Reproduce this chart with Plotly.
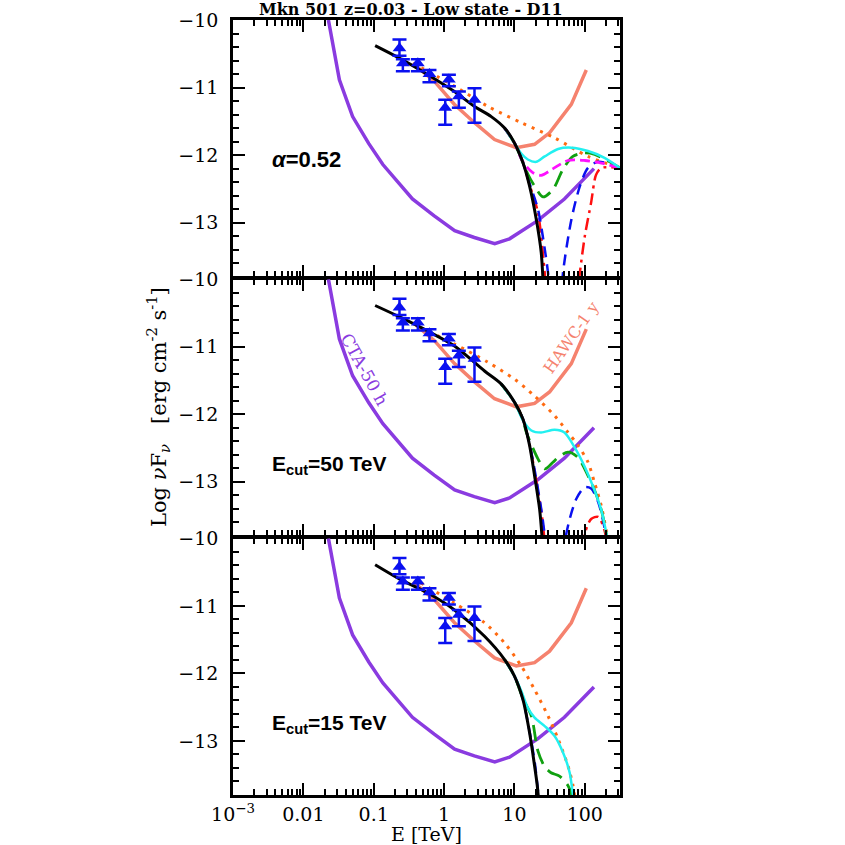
import numpy as np
import plotly.graph_objects as go
from plotly.subplots import make_subplots

# ---------------- data (log10 E [TeV], Log nuF_nu) ----------------
# observed points (same in all panels)
data_logE = [-0.634, -0.586, -0.373, -0.208, 0.068, 0.016, 0.210, 0.432]
data_logF = [-10.42, -10.64, -10.64, -10.80, -10.88, -11.30, -11.13, -11.18]
data_err_up = [0.13, 0.06, 0.06, 0.06, 0.07, 0.12, 0.07, 0.17]
data_err_dn = [0.11, 0.12, 0.12, 0.12, 0.10, 0.25, 0.17, 0.34]

# CTA-50 h sensitivity
cta_logE = [-1.644, -1.488, -1.30, -1.07, -0.87, -0.66, -0.45, -0.14, 0.15, 0.43, 0.72, 0.93, 1.33, 1.71, 2.13]
cta_logF = [-10.00, -10.885, -11.43, -11.83, -12.14, -12.39, -12.65, -12.90, -13.12, -13.22, -13.31, -13.24, -12.97, -12.65, -12.20]

# HAWC-1 y sensitivity
hawc_logE = [-0.444, -0.137, 0.148, 0.432, 0.717, 1.026, 1.286, 1.499, 1.808, 2.021]
hawc_logF = [-10.64, -10.91, -11.25, -11.52, -11.77, -11.89, -11.84, -11.67, -11.25, -10.74]

# panel 1 (alpha = 0.52)
p1_black_logE = [-0.98, -0.61, -0.23, 0.148, 0.432, 0.67, 0.86, 1.0, 1.12, 1.215, 1.31, 1.38, 1.405, 1.42]
p1_black_logF = [-10.38, -10.58, -10.81, -11.06, -11.28, -11.43, -11.60, -11.82, -12.11, -12.46, -12.95, -13.44, -13.83, -14.1]
p1_intr_logE = [-0.44, 0.148, 0.623, 1.097, 1.57, 2.045, 2.50]
p1_intr_logF = [-10.64, -10.98, -11.28, -11.52, -11.745, -12.02, -12.19]
p1_cyan_logE = [0.86, 1.0, 1.1, 1.19, 1.31, 1.43, 1.62, 1.81, 2.045, 2.28, 2.50]
p1_cyan_logF = [-11.60, -11.82, -11.98, -12.065, -12.10, -12.02, -11.91, -11.89, -11.94, -12.04, -12.19]
p1_mag_logE = [0.86, 1.0, 1.12, 1.26, 1.38, 1.55, 1.76, 2.0, 2.235, 2.50]
p1_mag_logF = [-11.60, -11.82, -12.10, -12.26, -12.30, -12.20, -12.08, -12.08, -12.12, -12.19]
p1_green_logE = [0.86, 1.0, 1.12, 1.19, 1.286, 1.405, 1.547, 1.69, 1.83, 1.974, 2.14, 2.50]
p1_green_logF = [-11.60, -11.82, -12.11, -12.28, -12.46, -12.62, -12.51, -12.21, -12.02, -11.97, -11.99, -12.19]
p1_blue_logE = [0.86, 1.0, 1.12, 1.215, 1.334, 1.41, 1.477, 1.55, 1.64, 1.69, 1.81, 1.93, 2.045, 2.19, 2.50]
p1_blue_logF = [-11.60, -11.82, -12.11, -12.42, -12.80, -13.25, -13.74, -14.5, -14.5, -13.74, -12.95, -12.46, -12.19, -12.10, -12.19]
p1_red_logE = [0.86, 1.0, 1.12, 1.215, 1.334, 1.43, 1.50, 1.85, 1.93, 2.0, 2.09, 2.16, 2.235, 2.50]
p1_red_logF = [-11.60, -11.82, -12.11, -12.44, -12.85, -13.74, -14.5, -14.5, -13.74, -13.20, -12.70, -12.29, -12.19, -12.19]

# panel 2 (Ecut = 50 TeV)
p2_black_logE = [-0.98, -0.61, -0.23, 0.148, 0.575, 0.81, 1.0, 1.12, 1.215, 1.286, 1.357, 1.39, 1.41]
p2_black_logF = [-10.39, -10.57, -10.77, -10.99, -11.36, -11.55, -11.82, -12.07, -12.46, -12.91, -13.40, -13.79, -14.1]
p2_intr_logE = [-0.33, 0.148, 0.623, 1.0, 1.286, 1.57, 1.761, 1.903, 2.045, 2.14, 2.235, 2.306, 2.34]
p2_intr_logF = [-10.72, -10.96, -11.23, -11.48, -11.73, -12.02, -12.27, -12.46, -12.71, -13.02, -13.36, -13.74, -14.0]
p2_cyan_logE = [0.81, 1.0, 1.12, 1.24, 1.38, 1.57, 1.71, 1.855, 2.0, 2.14, 2.235, 2.306, 2.34]
p2_cyan_logF = [-11.55, -11.82, -12.09, -12.24, -12.27, -12.23, -12.27, -12.49, -12.78, -13.13, -13.42, -13.77, -14.0]
p2_green_logE = [0.81, 1.0, 1.12, 1.17, 1.334, 1.43, 1.547, 1.62, 1.761, 1.903, 2.045, 2.14, 2.235, 2.306, 2.34]
p2_green_logF = [-11.55, -11.82, -12.08, -12.27, -12.66, -12.81, -12.71, -12.64, -12.56, -12.64, -12.91, -13.13, -13.42, -13.77, -14.0]
p2_blue_logE = [0.81, 1.0, 1.12, 1.215, 1.30, 1.38, 1.43, 1.50, 1.68, 1.737, 1.88, 2.0, 2.09, 2.19, 2.28, 2.32]
p2_blue_logF = [-11.55, -11.82, -12.07, -12.44, -12.90, -13.40, -13.79, -14.5, -14.5, -13.77, -13.25, -13.08, -13.10, -13.30, -13.68, -14.0]
p2_red_logE = [0.81, 1.0, 1.12, 1.215, 1.30, 1.39, 1.42, 1.50, 1.90, 2.0, 2.09, 2.19, 2.28, 2.32]
p2_red_logF = [-11.55, -11.82, -12.07, -12.45, -12.92, -13.50, -13.79, -14.5, -14.5, -13.77, -13.55, -13.52, -13.72, -14.0]

# panel 3 (Ecut = 15 TeV)
p3_black_logE = [-0.98, -0.61, -0.23, 0.148, 0.575, 0.86, 1.0, 1.12, 1.215, 1.286, 1.324, 1.35]
p3_black_logF = [-10.39, -10.615, -10.81, -11.06, -11.45, -11.795, -12.04, -12.385, -12.88, -13.37, -13.66, -13.95]
p3_intr_logE = [-0.33, 0.148, 0.575, 0.86, 1.097, 1.286, 1.477, 1.62, 1.761, 1.832, 1.87]
p3_intr_logF = [-10.66, -10.96, -11.25, -11.55, -11.89, -12.24, -12.63, -12.97, -13.37, -13.66, -13.9]
p3_cyan_logE = [0.86, 1.0, 1.097, 1.19, 1.286, 1.43, 1.57, 1.69, 1.785, 1.83, 1.86]
p3_cyan_logF = [-11.795, -12.04, -12.26, -12.51, -12.655, -12.78, -12.925, -13.17, -13.47, -13.79, -14.0]
p3_green_logE = [0.86, 1.0, 1.12, 1.24, 1.334, 1.43, 1.52, 1.64, 1.76, 1.81, 1.84]
p3_green_logF = [-11.795, -12.04, -12.37, -12.63, -13.15, -13.38, -13.47, -13.52, -13.66, -13.79, -14.0]
p3_blue_logE = [0.86, 1.0, 1.12, 1.215, 1.29, 1.34, 1.37]
p3_blue_logF = [-11.795, -12.04, -12.385, -12.86, -13.33, -13.79, -14.0]

panel_labels = ["<b><i>α</i>=0.52</b>", "<b>E<sub>cut</sub>=50 TeV</b>", "<b>E<sub>cut</sub>=15 TeV</b>"]
title_text = "<b>Mkn 501 z=0.03 - Low state - D11</b>"
xtick_vals = [1e-3, 1e-2, 1e-1, 1, 10, 100]
xtick_text = ["10<sup>−3</sup>", "0.01", "0.1", "1", "10", "100"]
ytick_vals = [-13, -12, -11, -10]
ytick_text = ["−13", "−12", "−11", "−10"]

# ---------------- figure ----------------
SERIF = "DejaVu Serif"
LW = 2.5
PLOT_H = 775.0
fig = make_subplots(rows=3, cols=1, shared_xaxes=True, vertical_spacing=LW / PLOT_H)

def E(v):
    return 10 ** np.asarray(v)

def line(xl, yl, color, width, dash="solid", row=1, shape="spline"):
    fig.add_trace(go.Scatter(x=E(xl), y=yl, mode="lines",
                             line=dict(color=color, width=width, dash=dash, shape=shape, smoothing=0.8),
                             hoverinfo="skip"), row=row, col=1)

PURPLE = "#8a3be0"
SALMON = "#f5826e"
ORANGE = "#ff6a10"
CYAN = "#22f0f0"
MAGENTA = "#ff10ff"
GREEN = "#10a010"
BLUE = "#0a10f0"
RED = "#ff1010"

panels = [
    dict(black=(p1_black_logE, p1_black_logF), intr=(p1_intr_logE, p1_intr_logF),
         red=(p1_red_logE, p1_red_logF), blue=(p1_blue_logE, p1_blue_logF),
         green=(p1_green_logE, p1_green_logF), mag=(p1_mag_logE, p1_mag_logF),
         cyan=(p1_cyan_logE, p1_cyan_logF)),
    dict(black=(p2_black_logE, p2_black_logF), intr=(p2_intr_logE, p2_intr_logF),
         red=(p2_red_logE, p2_red_logF), blue=(p2_blue_logE, p2_blue_logF),
         green=(p2_green_logE, p2_green_logF), cyan=(p2_cyan_logE, p2_cyan_logF)),
    dict(black=(p3_black_logE, p3_black_logF), intr=(p3_intr_logE, p3_intr_logF),
         blue=(p3_blue_logE, p3_blue_logF),
         green=(p3_green_logE, p3_green_logF), cyan=(p3_cyan_logE, p3_cyan_logF)),
]

for i, p in enumerate(panels):
    r = i + 1
    line(cta_logE, cta_logF, PURPLE, 3.5, row=r, shape="linear")
    line(hawc_logE, hawc_logF, SALMON, 3.5, row=r, shape="linear")
    line(*p["intr"], ORANGE, 3, dash="3px,6px", row=r)
    if "red" in p:
        line(*p["red"], RED, 2.5, dash="12px,5px,3px,5px", row=r)
    if "blue" in p:
        line(*p["blue"], BLUE, 2.5, dash="11px,7px", row=r)
    if "green" in p:
        line(*p["green"], GREEN, 2.8, dash="16px,8px", row=r)
    if "mag" in p:
        line(*p["mag"], MAGENTA, 2.8, dash="10px,5px", row=r)
    line(*p["cyan"], CYAN, 2.5, row=r)
    line(*p["black"], "black", 3, row=r)
    fig.add_trace(go.Scatter(x=E(data_logE), y=data_logF, mode="markers",
                             marker=dict(symbol="triangle-up", size=12, color=BLUE),
                             error_y=dict(type="data", symmetric=False, array=data_err_up,
                                          arrayminus=data_err_dn, color=BLUE, thickness=2.5, width=7),
                             hoverinfo="skip"), row=r, col=1)

minor_vals = [k * 10.0 ** n for n in range(-3, 3) for k in range(2, 10)]

for r in (1, 2, 3):
    fig.update_xaxes(row=r, col=1, type="log", range=[-3, 2.5], automargin=False,
                     tickvals=xtick_vals, ticktext=xtick_text, showticklabels=(r == 3),
                     ticks="inside", ticklen=12, tickwidth=2, tickcolor="black",
                     mirror="allticks", showline=True, linecolor="black", linewidth=LW,
                     showgrid=False, zeroline=False,
                     minor=dict(ticks="inside", ticklen=6, tickwidth=2, tickcolor="black",
                                tickvals=minor_vals, showgrid=False),
                     tickfont=dict(family=SERIF, size=19, color="black"))
    fig.update_yaxes(row=r, col=1, range=[-13.8, -10], automargin=False,
                     tickvals=ytick_vals, ticktext=ytick_text, ticklabelstandoff=8,
                     ticks="inside", ticklen=12, tickwidth=2, tickcolor="black",
                     mirror="allticks", showline=True, linecolor="black", linewidth=LW,
                     showgrid=False, zeroline=False,
                     minor=dict(ticks="inside", ticklen=6, tickwidth=2, tickcolor="black",
                                dtick=0.2, tick0=-10, showgrid=False),
                     tickfont=dict(family=SERIF, size=19, color="black"))

annotations = [
    dict(text=title_text, xref="paper", yref="paper", x=0.46, y=1 + 10 / PLOT_H, yanchor="middle",
         xanchor="center", showarrow=False, font=dict(family=SERIF, size=16, color="black")),
    dict(text="E [TeV]", xref="paper", yref="paper", x=0.5, y=-39 / PLOT_H, yanchor="middle",
         xanchor="center", showarrow=False, font=dict(family=SERIF, size=19, color="black")),
    dict(text="Log <i>ν</i>F<sub><i>ν</i></sub>   [erg cm<sup>-2</sup> s<sup>-1</sup>]",
         xref="paper", yref="paper", x=-0.195, y=0.5, xanchor="center", yanchor="middle",
         textangle=-90, showarrow=False, font=dict(family=SERIF, size=21, color="black")),
    dict(text=panel_labels[0], xref="x", yref="y", x=-2.47, y=-12.06, xanchor="left",
         yanchor="middle", showarrow=False, font=dict(family="Liberation Sans", size=22, color="black")),
    dict(text=panel_labels[1], xref="x2", yref="y2", x=-2.47, y=-12.75, xanchor="left",
         yanchor="middle", showarrow=False, font=dict(family="Liberation Sans", size=21, color="black")),
    dict(text=panel_labels[2], xref="x3", yref="y3", x=-2.47, y=-12.75, xanchor="left",
         yanchor="middle", showarrow=False, font=dict(family="Liberation Sans", size=21, color="black")),
    dict(text="CTA-50 h", xref="x2", yref="y2", x=-1.137, y=-11.33, textangle=61,
         showarrow=False, font=dict(family=SERIF, size=17, color=PURPLE)),
    dict(text="HAWC-1 y", xref="x2", yref="y2", x=1.808, y=-10.87, textangle=-55,
         showarrow=False, font=dict(family=SERIF, size=16, color=SALMON)),
]

fig.update_layout(width=845, height=845, margin=dict(l=233, r=225, t=20, b=50),
                  plot_bgcolor="white", paper_bgcolor="white", showlegend=False,
                  annotations=annotations)

# remove the default 8 px page margin so the figure fills the 845x845 window exactly
fig.write_html("out.html", config={"displayModeBar": False},
               post_script="document.body.style.margin='0';document.body.style.overflow='hidden';")
